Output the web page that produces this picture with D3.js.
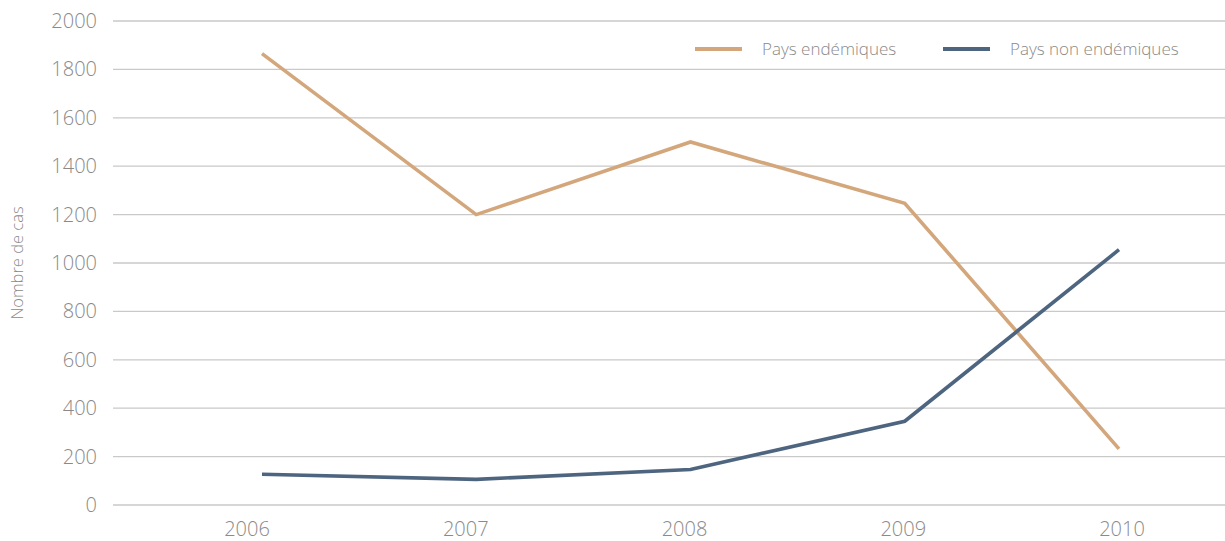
<!DOCTYPE html>
<html><head><meta charset="utf-8">
<script src="https://cdn.jsdelivr.net/npm/d3@7"></script>
<style>
body{margin:0;background:#fff;}
text{font-family:"Open Sans","Noto Sans",sans-serif;font-weight:300;fill:#8a8a8a;}
</style></head>
<body><svg id="c" width="1225" height="541"></svg>
<script>
const years = ["2006","2007","2008","2009","2010"];
const endemic = [1865, 1200, 1500, 1247, 232];
const nonEndemic = [127, 106, 147, 346, 1055];
const yTicks = [0,200,400,600,800,1000,1200,1400,1600,1800,2000];
const seriesNames = ["Pays endémiques","Pays non endémiques"];
const colors = ["#d3a77b","#4e6580"];

const svg = d3.select("#c");
const y = d3.scaleLinear().domain([0,2000]).range([505,21]);
const x = d3.scalePoint().domain(years).range([262,1119]);
const xLab = d3.scalePoint().domain(years).range([247,1122]);

svg.append("g").selectAll("line").data(yTicks).join("line")
  .attr("x1",113).attr("x2",1225)
  .attr("y1",d=>y(d)).attr("y2",d=>y(d))
  .attr("stroke","#c9c9c9").attr("stroke-width",1.3);

svg.append("g").selectAll("text").data(yTicks).join("text")
  .attr("x",97).attr("y",d=>y(d)).attr("dy","0.35em")
  .attr("text-anchor","end").style("font-size","20px").text(d=>d);

svg.append("g").selectAll("text").data(years).join("text")
  .attr("x",d=>xLab(d)).attr("y",536)
  .attr("text-anchor","middle").style("font-size","20px").text(d=>d);

svg.append("text").attr("transform","translate(23,263) rotate(-90)")
  .attr("text-anchor","middle").style("font-size","16.5px").text("Nombre de cas");

const line = d3.line().x((d,i)=>x(years[i])).y(d=>y(d));
[endemic, nonEndemic].forEach((s,k)=>{
  svg.append("path").datum(s).attr("d",line)
    .attr("fill","none").attr("stroke",colors[k]).attr("stroke-width",3.6)
    .attr("stroke-linejoin","miter");
});

const legX = [695, 943];
seriesNames.forEach((n,k)=>{
  svg.append("line").attr("x1",legX[k]).attr("x2",legX[k]+47)
    .attr("y1",49).attr("y2",49).attr("stroke",colors[k]).attr("stroke-width",4);
  svg.append("text").attr("x",legX[k]+67).attr("y",49).attr("dy","0.35em")
    .style("font-size","17px").text(n);
});
</script></body></html>
